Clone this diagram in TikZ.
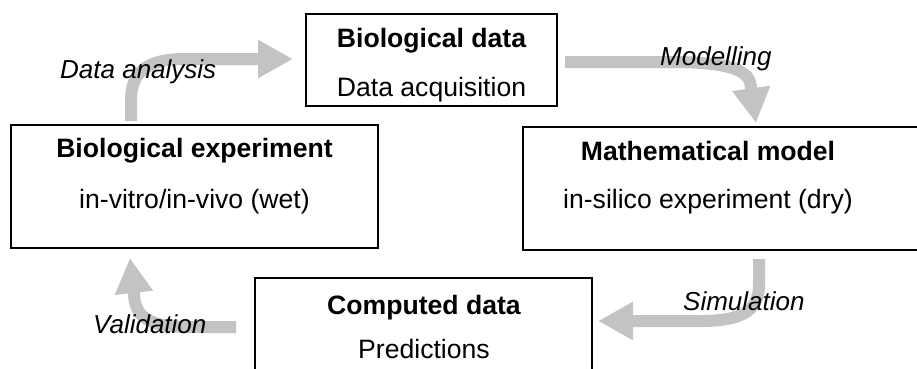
\documentclass[tikz,border=0pt]{standalone}
\usepackage{fontspec}
\setmainfont{Liberation Sans}
\usetikzlibrary{arrows.meta}
\definecolor{arrgray}{RGB}{195,195,195}
\tikzset{
  boxnode/.style={draw=black, line width=1.8pt, rectangle, inner sep=0pt, fill=white},
  txt/.style={font=\fontsize{26.6}{30}\selectfont, anchor=base, inner sep=0pt},
  ttl/.style={txt, font=\fontsize{26.6}{30}\selectfont\bfseries},
  lbl/.style={font=\fontsize{26}{30}\selectfont\itshape, anchor=base west, inner sep=0pt},
  bigarrow/.style={draw=arrgray, line width=12pt, -{Triangle[length=35pt,width=36pt]}, color=arrgray},
}
\begin{document}
\begin{tikzpicture}[x=1pt,y=-1pt]
\useasboundingbox (0,0) rectangle (917,368);
% boxes
\node[boxnode, minimum width=251pt, minimum height=92pt] (box1) at (431.5,60) {};
\node[boxnode, minimum width=367pt, minimum height=123pt] (box2) at (194.5,186.5) {};
\node[boxnode, minimum width=402pt, minimum height=123pt] (box3) at (724,188.5) {};
\node[boxnode, minimum width=337pt, minimum height=110pt] (box4) at (423.5,333) {};
% box texts
\node[ttl] (t1a) at (431.5,47) {Biological data};
\node[txt] (t1b) at (431.5,96) {Data acquisition};
\node[ttl] (t2a) at (194.5,157) {Biological experiment};
\node[txt] (t2b) at (194.5,208) {in-vitro/in-vivo (wet)};
\node[ttl] (t3a) at (708,160) {Mathematical model};
\node[txt] (t3b) at (708,208) {in-silico experiment (dry)};
\node[ttl] (t4a) at (424,314) {Computed data};
\node[txt] (t4b) at (424,358) {Predictions};
% arrow end points
\coordinate (a1s) at (131,121);
\coordinate (a1e) at (293,59);
\coordinate (a2s) at (565,62);
\coordinate (a2e) at (756,123);
\coordinate (a3s) at (759,259);
\coordinate (a3e) at (598,321);
\coordinate (a4s) at (236,327);
\coordinate (a4e) at (130,258);
% arrows
\draw[bigarrow] (a1s) -- (131,100) .. controls (131,70) and (150,59) .. (185,59) -- (a1e);
\draw[bigarrow] (a2s) -- (670,62) .. controls (735,62) and (750,72) .. (751,87) -- (a2e);
\draw[bigarrow] (a3s) -- (759,285) .. controls (759,312) and (740,321) .. (700,321) -- (a3e);
\draw[bigarrow] (a4s) -- (190,327) .. controls (150,327) and (135,318) .. (134,294) -- (a4e);
% labels
\node[lbl] (l1) at (60,78) {Data analysis};
\node[lbl] (l2) at (660,65) {Modelling};
\node[lbl] (l3) at (683,310) {Simulation};
\node[lbl] (l4) at (93,333) {Validation};
\end{tikzpicture}
\end{document}
